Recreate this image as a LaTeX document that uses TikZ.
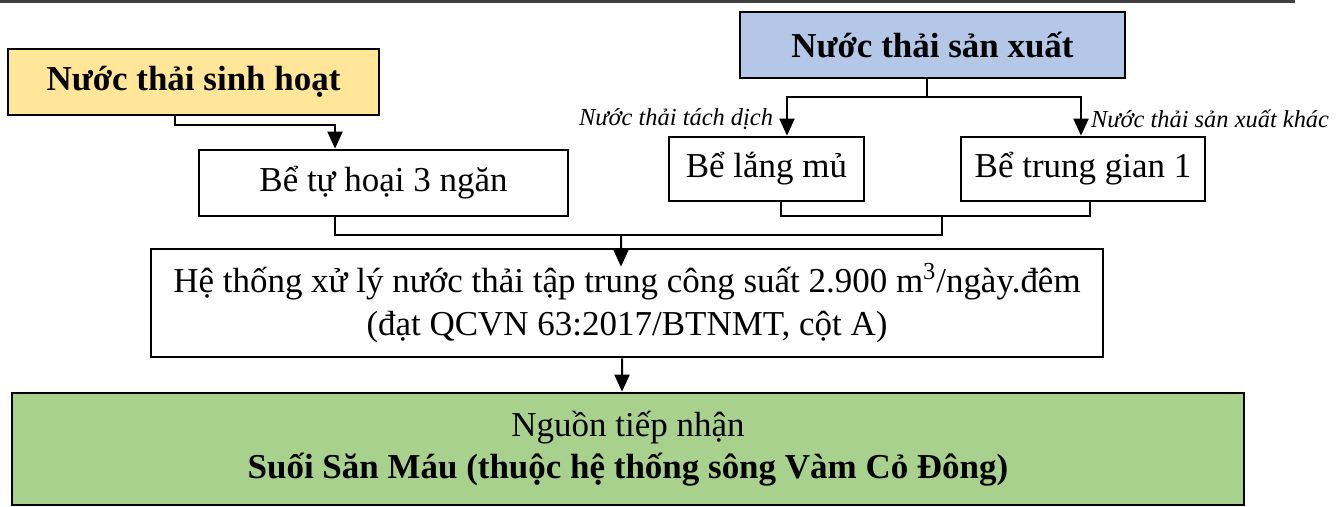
\documentclass[tikz,border=0pt]{standalone}
\usepackage{fontspec}
\setmainfont{Liberation Serif}
\usetikzlibrary{arrows.meta, positioning, calc}

\definecolor{vang}{RGB}{255,230,153}
\definecolor{xanhduong}{RGB}{180,199,231}
\definecolor{xanhla}{RGB}{169,209,142}

\begin{document}
\begin{tikzpicture}[
    every node/.style={font=\fontsize{19.9}{24}\selectfont},
    bx/.style={draw, line width=0.055cm, fill=white, inner sep=0pt, align=center},
    ln/.style={line width=0.04cm},
    ar/.style={-{Triangle[length=0.34cm, width=0.3cm]}, line width=0.04cm},
    al/.style={font=\fontsize{13.9}{16}\selectfont\itshape, inner sep=0pt}
]
\useasboundingbox (0,0) rectangle (26.84,-10.12);
\draw[line width=0.06cm, black!75] (0,-0.02) -- (25.9,-0.02);

% nguon nuoc thai
\node[bx, fill=vang, minimum width=7.42cm, minimum height=1.32cm] (shsinh) at (3.87,-1.64) {\textbf{Nước thải sinh hoạt}};
\node[bx, fill=xanhduong, minimum width=7.70cm, minimum height=1.32cm] (sx) at (18.65,-0.90) {\textbf{Nước thải sản xuất}};

% be xu ly so bo
\node[bx, minimum width=7.38cm, minimum height=1.32cm] (tuhoai) at (7.67,-3.66) {Bể tự hoại 3 ngăn};
\node[bx, minimum width=3.90cm, minimum height=1.28cm] (langmu) at (15.33,-3.38) {Bể lắng mủ};
\node[bx, minimum width=4.88cm, minimum height=1.28cm] (trunggian) at (21.66,-3.38) {Bể trung gian 1};

% HTXL tap trung va nguon tiep nhan
\node[bx, minimum width=19.04cm, minimum height=2.16cm] (htxl) at (12.54,-6.06)
  {Hệ thống xử lý nước thải tập trung công suất 2.900 m\textsuperscript{3}/ngày.đêm\\ (đạt QCVN 63:2017/BTNMT, cột A)};
\node[bx, fill=xanhla, minimum width=24.64cm, minimum height=2.24cm] (nguon) at (12.56,-8.98)
  {Nguồn tiếp nhận\\ \textbf{Suối Săn Máu (thuộc hệ thống sông Vàm Cỏ Đông)}};

\coordinate (hop) at (18.84,-4.30);
\coordinate (gop) at (12.42,-4.70);

\draw[ar] ($(shsinh.south)+(-0.37,0)$) |- ($(tuhoai.north)+(-0.97,0.48)$) -- ($(tuhoai.north)+(-0.97,0)$);
\draw[ar] ($(sx.south)+(-0.11,0)$) |- ($(langmu.north)+(0.41,0.78)$)
  -- node[al, pos=0.58, left=0.26cm] {Nước thải tách dịch} ($(langmu.north)+(0.41,0)$);
\draw[ar] ($(sx.south)+(-0.11,0)$) |- ($(trunggian.north)+(-0.04,0.78)$)
  -- node[al, pos=0.58, right=0.18cm] {Nước thải sản xuất khác} ($(trunggian.north)+(-0.04,0)$);

\draw[ln] ($(langmu.south)+(0.29,0)$) |- ($(trunggian.south)+(0.14,-0.28)$) -- ($(trunggian.south)+(0.14,0)$);
\draw[ln] ($(tuhoai.south)+(-0.97,0)$) |- (hop |- gop) -- (hop);
\draw[ar] (gop) -- ($(htxl.north)+(-0.12,-0.38)$);
\draw[ar] ($(htxl.south)+(-0.10,0)$) -- ($(nguon.north)+(-0.12,0)$);
\end{tikzpicture}
\end{document}
